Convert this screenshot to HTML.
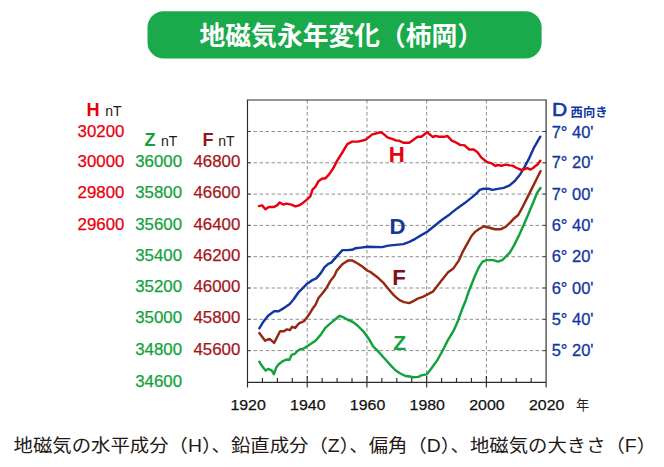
<!DOCTYPE html>
<html lang="ja"><head><meta charset="utf-8"><title>地磁気永年変化（柿岡）</title>
<style>html,body{margin:0;padding:0;background:#fff;}body{width:664px;height:467px;overflow:hidden;font-family:"Liberation Sans",sans-serif;}svg{display:block}</style>
</head><body>
<svg width="664" height="467" viewBox="0 0 664 467" style="display:block">
<rect width="664" height="467" fill="#fff"/>
<rect x="147.5" y="11.3" width="394.1" height="47.1" rx="16" ry="16" fill="#1aaa4b"/>
<text x="199.6" y="45" fill="#fff" font-family="'Liberation Sans', 'Noto Sans CJK JP', sans-serif" font-size="26" font-weight="bold" textLength="283.4" lengthAdjust="spacingAndGlyphs">地磁気永年変化（柿岡）</text>
<path d="M247.5 131.50H546.1M247.5 162.80H546.1M247.5 194.10H546.1M247.5 225.40H546.1M247.5 256.70H546.1M247.5 288.00H546.1M247.5 319.30H546.1M247.5 350.60H546.1M307.22 100.0V382.3M366.94 100.0V382.3M426.66 100.0V382.3M486.38 100.0V382.3" fill="none" stroke="#6a6a6a" stroke-width="0.75" stroke-dasharray="3.5 2.5"/>
<polyline points="259.3,361.7 262.4,366.6 265.6,370.6 268.1,368.9 271.7,370.3 273.9,374.1 276.2,367.6 278.9,364 283.4,360.8 287,359.5 289.3,359.9 291.6,354.9 295.2,353.6 297,351.3 300.6,349.1 303.3,348.8 308.7,345.2 315.5,340.7 320.8,334.6 325.3,327.9 331.3,322.6 335.9,318.8 339.8,315.8 343.4,317.3 347.3,319.5 352.1,321.5 357.5,325.5 364.1,332.2 369.4,339.8 373.1,346.4 377.7,350.9 385.2,359.2 391.2,365.9 395.7,370.5 400.3,373.5 405.5,376 410,376.5 413.1,377.2 418.3,376.9 421.3,375.4 426.7,374.4 431.3,368.5 437.2,360.4 442.4,351 447.5,340.9 453.6,330.7 457.7,321.5 461.7,310.3 465.8,300.2 469.2,290.2 472.2,282.7 475.2,275.2 479,266.9 482.7,261.6 486.5,260.1 493.3,260.1 497.8,261.6 502.3,260.1 506.1,256.4 509.8,252.6 514.3,244.9 519.1,235.2 523.9,224.6 528.8,213 533.6,201.5 537.1,192.8 540.5,188" fill="none" stroke="#12a23b" stroke-width="2.45" stroke-linejoin="round" stroke-linecap="round"/>
<polyline points="259.3,333.1 265.1,340.7 269.6,338.9 274.1,342.9 280.1,331.3 283.9,331.3 286.9,329.4 289.9,330.1 292.2,326.8 295.2,327.9 299,323.3 304.2,321.1 308.7,315.1 312.5,308.8 315.5,304.8 318.5,298 322.3,293.5 326.8,287.4 330.6,280.7 334.3,276.1 336.6,270.9 340.4,266.4 343,263.7 348.3,260.4 352.1,260.4 358.1,263.7 362.6,266.7 367.1,270.5 370.8,272.2 377,276.9 383,282.3 388,288.5 394.2,295.6 399.5,300.1 404,302.1 409.3,303.1 413.8,300.9 418.3,298.3 422.8,296.8 427.2,294.6 432.8,291.7 436.5,286.9 442.1,279.7 448.1,272.2 453.4,268.4 458.6,260.9 463.1,251.1 467.7,242.8 471.5,236 475.2,231.7 479.5,228.8 484.2,226.2 488.7,227.5 494.8,229.2 500.8,229.2 505.6,226.8 510.4,222.3 514.3,218.2 518.2,215 522,208.2 526.8,198.6 531.7,188.9 536.5,179.3 540.5,171.2" fill="none" stroke="#96290f" stroke-width="2.45" stroke-linejoin="round" stroke-linecap="round"/>
<polyline points="259.3,328.3 262.8,322.6 268.1,315.8 274.1,311.3 278.6,311.3 284.6,307.6 289.5,304.3 293.7,299.3 298.2,292.7 302.7,288.2 307.2,283.7 311.8,280.4 316.3,278.4 320.8,273.1 324.6,267.1 328.3,263.8 331.3,262.6 337.2,255.9 342.5,250.1 347,250.1 352.1,249.8 355.1,248.3 361.1,247.6 367.1,246.8 382.2,247.1 388.2,245.6 403.3,244.1 409.3,241.8 415.3,238.8 421.3,235.1 427.2,231.8 434,226.2 442.1,219.7 449.6,214.4 457.1,208.4 464.7,203.1 472.2,197.1 476.7,193.3 479.7,189.9 483.5,188.8 488.7,188.8 492.5,189.9 497.8,188.9 503.8,187.9 509.6,185.4 514.8,181 520.1,174.5 524.6,166.8 528.6,159.4 534.4,146.8 540.3,136.7" fill="none" stroke="#1237a0" stroke-width="2.45" stroke-linejoin="round" stroke-linecap="round"/>
<polyline points="259.0,206.1 262.1,205.4 265.4,209.2 268.8,206.9 274.1,206.9 277.1,205.4 279.8,202.4 283.1,204.6 286.2,203.6 291.4,204.6 295.5,206.4 299.0,205.4 303.5,202.4 307.2,199.4 310.3,196.4 312.5,189.7 315.5,186.7 318.5,181.2 322.3,178.4 325.3,178.4 329.1,174.4 333.6,167.7 336.6,161.6 341.7,153.5 347.3,144.1 352.1,141.6 358.1,141.6 365.6,139.7 372.4,134.4 380.7,132.3 382.2,132.9 387.5,137.4 392.7,139.1 396.5,140.6 398.7,140.6 403.3,142.7 409.3,142.7 413.1,140.1 417.6,136.8 421.3,136.8 427.1,132.3 433,137.1 435.3,135.9 439,136.8 444.3,136.8 447.3,135.9 451.8,140.6 456.4,142.7 460.1,144.9 464.6,145.4 469.2,149.5 473.7,149.5 477.5,152.2 481.2,157.4 486.5,161.8 491.8,163.4 495.5,165.9 497.8,165.0 501.5,165.8 505.2,164.6 509.9,165.4 512.5,165.6 515.8,167.5 519,169 521.9,170.2 524.5,169.2 527.3,168.1 530.6,169.6 533,168 535.1,166.3 537.8,164.2 540.3,160.8" fill="none" stroke="#e8000e" stroke-width="2.45" stroke-linejoin="round" stroke-linecap="round"/>
<path d="M247.5 100.0H546.1V382.3H247.5ZM247.50 376.1V387.5M262.43 377.90000000000003V382.3M277.36 377.90000000000003V382.3M292.29 377.90000000000003V382.3M307.22 376.1V387.5M322.15 377.90000000000003V382.3M337.08 377.90000000000003V382.3M352.01 377.90000000000003V382.3M366.94 376.1V387.5M381.87 377.90000000000003V382.3M396.80 377.90000000000003V382.3M411.73 377.90000000000003V382.3M426.66 376.1V387.5M441.59 377.90000000000003V382.3M456.52 377.90000000000003V382.3M471.45 377.90000000000003V382.3M486.38 376.1V387.5M501.31 377.90000000000003V382.3M516.24 377.90000000000003V382.3M531.17 377.90000000000003V382.3M546.10 376.1V387.5" fill="none" stroke="#2c2c2c" stroke-width="1.15"/>
<path d="M247.5 131.50h3.2M546.1 131.50h-3.2M247.5 162.80h3.2M546.1 162.80h-3.2M247.5 194.10h3.2M546.1 194.10h-3.2M247.5 225.40h3.2M546.1 225.40h-3.2M247.5 256.70h3.2M546.1 256.70h-3.2M247.5 288.00h3.2M546.1 288.00h-3.2M247.5 319.30h3.2M546.1 319.30h-3.2M247.5 350.60h3.2M546.1 350.60h-3.2" fill="none" stroke="#2c2c2c" stroke-width="0.8"/>
<g font-family="'Liberation Sans', sans-serif" font-size="16">
<text x="77.5" y="136.65" fill="#e8000e" textLength="46.9" lengthAdjust="spacingAndGlyphs" font-size="16.4" stroke="#e8000e" stroke-width="0.25">30200</text>
<text x="77.5" y="166.95" fill="#e8000e" textLength="46.9" lengthAdjust="spacingAndGlyphs" font-size="16.4" stroke="#e8000e" stroke-width="0.25">30000</text>
<text x="77.5" y="198.25" fill="#e8000e" textLength="46.9" lengthAdjust="spacingAndGlyphs" font-size="16.4" stroke="#e8000e" stroke-width="0.25">29800</text>
<text x="77.5" y="229.55" fill="#e8000e" textLength="46.9" lengthAdjust="spacingAndGlyphs" font-size="16.4" stroke="#e8000e" stroke-width="0.25">29600</text>
<text x="135.2" y="166.95" fill="#12a23b" textLength="46.9" lengthAdjust="spacingAndGlyphs" font-size="16.4" stroke="#12a23b" stroke-width="0.25">36000</text>
<text x="135.2" y="198.25" fill="#12a23b" textLength="46.9" lengthAdjust="spacingAndGlyphs" font-size="16.4" stroke="#12a23b" stroke-width="0.25">35800</text>
<text x="135.2" y="229.55" fill="#12a23b" textLength="46.9" lengthAdjust="spacingAndGlyphs" font-size="16.4" stroke="#12a23b" stroke-width="0.25">35600</text>
<text x="135.2" y="260.85" fill="#12a23b" textLength="46.9" lengthAdjust="spacingAndGlyphs" font-size="16.4" stroke="#12a23b" stroke-width="0.25">35400</text>
<text x="135.2" y="292.15" fill="#12a23b" textLength="46.9" lengthAdjust="spacingAndGlyphs" font-size="16.4" stroke="#12a23b" stroke-width="0.25">35200</text>
<text x="135.2" y="323.45" fill="#12a23b" textLength="46.9" lengthAdjust="spacingAndGlyphs" font-size="16.4" stroke="#12a23b" stroke-width="0.25">35000</text>
<text x="135.2" y="354.75" fill="#12a23b" textLength="46.9" lengthAdjust="spacingAndGlyphs" font-size="16.4" stroke="#12a23b" stroke-width="0.25">34800</text>
<text x="135.2" y="386.90" fill="#12a23b" textLength="46.9" lengthAdjust="spacingAndGlyphs" font-size="16.4" stroke="#12a23b" stroke-width="0.25">34600</text>
<text x="193.4" y="166.95" fill="#a3161c" textLength="46.9" lengthAdjust="spacingAndGlyphs" font-size="16.4" stroke="#a3161c" stroke-width="0.25">46800</text>
<text x="193.4" y="198.25" fill="#a3161c" textLength="46.9" lengthAdjust="spacingAndGlyphs" font-size="16.4" stroke="#a3161c" stroke-width="0.25">46600</text>
<text x="193.4" y="229.55" fill="#a3161c" textLength="46.9" lengthAdjust="spacingAndGlyphs" font-size="16.4" stroke="#a3161c" stroke-width="0.25">46400</text>
<text x="193.4" y="260.85" fill="#a3161c" textLength="46.9" lengthAdjust="spacingAndGlyphs" font-size="16.4" stroke="#a3161c" stroke-width="0.25">46200</text>
<text x="193.4" y="292.15" fill="#a3161c" textLength="46.9" lengthAdjust="spacingAndGlyphs" font-size="16.4" stroke="#a3161c" stroke-width="0.25">46000</text>
<text x="193.4" y="323.45" fill="#a3161c" textLength="46.9" lengthAdjust="spacingAndGlyphs" font-size="16.4" stroke="#a3161c" stroke-width="0.25">45800</text>
<text x="193.4" y="354.75" fill="#a3161c" textLength="46.9" lengthAdjust="spacingAndGlyphs" font-size="16.4" stroke="#a3161c" stroke-width="0.25">45600</text>
<text x="551.7" y="137.85" fill="#1237a0" textLength="41.8" lengthAdjust="spacingAndGlyphs" stroke="#1237a0" stroke-width="0.3">7° 40'</text>
<text x="551.7" y="168.35" fill="#1237a0" textLength="41.8" lengthAdjust="spacingAndGlyphs" stroke="#1237a0" stroke-width="0.3">7° 20'</text>
<text x="551.7" y="199.65" fill="#1237a0" textLength="41.8" lengthAdjust="spacingAndGlyphs" stroke="#1237a0" stroke-width="0.3">7° 00'</text>
<text x="551.7" y="230.95" fill="#1237a0" textLength="41.8" lengthAdjust="spacingAndGlyphs" stroke="#1237a0" stroke-width="0.3">6° 40'</text>
<text x="551.7" y="262.25" fill="#1237a0" textLength="41.8" lengthAdjust="spacingAndGlyphs" stroke="#1237a0" stroke-width="0.3">6° 20'</text>
<text x="551.7" y="293.55" fill="#1237a0" textLength="41.8" lengthAdjust="spacingAndGlyphs" stroke="#1237a0" stroke-width="0.3">6° 00'</text>
<text x="551.7" y="324.85" fill="#1237a0" textLength="41.8" lengthAdjust="spacingAndGlyphs" stroke="#1237a0" stroke-width="0.3">5° 40'</text>
<text x="551.7" y="356.15" fill="#1237a0" textLength="41.8" lengthAdjust="spacingAndGlyphs" stroke="#1237a0" stroke-width="0.3">5° 20'</text>
<text x="248.10" y="410.20" fill="#111" text-anchor="middle" textLength="35.4" lengthAdjust="spacingAndGlyphs" font-size="15.3" stroke="#111" stroke-width="0.25">1920</text>
<text x="307.82" y="410.20" fill="#111" text-anchor="middle" textLength="35.4" lengthAdjust="spacingAndGlyphs" font-size="15.3" stroke="#111" stroke-width="0.25">1940</text>
<text x="367.54" y="410.20" fill="#111" text-anchor="middle" textLength="35.4" lengthAdjust="spacingAndGlyphs" font-size="15.3" stroke="#111" stroke-width="0.25">1960</text>
<text x="427.26" y="410.20" fill="#111" text-anchor="middle" textLength="35.4" lengthAdjust="spacingAndGlyphs" font-size="15.3" stroke="#111" stroke-width="0.25">1980</text>
<text x="486.98" y="410.20" fill="#111" text-anchor="middle" textLength="35.4" lengthAdjust="spacingAndGlyphs" font-size="15.3" stroke="#111" stroke-width="0.25">2000</text>
<text x="546.70" y="410.20" fill="#111" text-anchor="middle" textLength="35.4" lengthAdjust="spacingAndGlyphs" font-size="15.3" stroke="#111" stroke-width="0.25">2020</text>
<text x="105.3" y="116.00" fill="#231815" font-size="14">nT</text>
<text x="161.0" y="145.80" fill="#231815" font-size="14">nT</text>
<text x="218.2" y="145.80" fill="#231815" font-size="14">nT</text>
</g>
<text x="86.6" y="115.7" fill="#e8000e" font-family="'Liberation Sans', sans-serif" font-size="18.1" font-weight="bold">H</text>
<text x="144.6" y="145.7" fill="#12a23b" font-family="'Liberation Sans', sans-serif" font-size="18.1" font-weight="bold">Z</text>
<text x="202.4" y="145.6" fill="#96131b" font-family="'Liberation Sans', sans-serif" font-size="18.1" font-weight="bold">F</text>
<text x="388.7" y="162" fill="#e8000e" font-family="'Liberation Sans', sans-serif" font-size="22.2" font-weight="bold">H</text>
<text x="389.5" y="234" fill="#1237a0" font-family="'Liberation Sans', sans-serif" font-size="22.2" font-weight="bold">D</text>
<text x="392.2" y="284.8" fill="#820f19" font-family="'Liberation Sans', sans-serif" font-size="22.2" font-weight="bold">F</text>
<text x="393.3" y="350.3" fill="#12a23b" font-family="'Liberation Sans', sans-serif" font-size="21" font-weight="bold">Z</text>
<text transform="translate(551.9,116.0) scale(1.17,1)" fill="#1237a0" stroke="#1237a0" stroke-width="0.55" font-family="'Liberation Sans', sans-serif" font-size="18">D</text>
<text x="570.6" y="116.6" fill="#1237a0" font-family="'Liberation Sans', 'Noto Sans CJK JP', sans-serif" font-size="12.4" font-weight="bold" textLength="37" lengthAdjust="spacingAndGlyphs">西向き</text>
<text x="576.1" y="409.8" fill="#222" font-family="'Liberation Sans', 'Noto Sans CJK JP', sans-serif" font-size="13.2">年</text>
<text x="13.6" y="452.1" fill="#231815" font-family="'Liberation Sans', 'Noto Sans CJK JP', sans-serif" font-size="18" textLength="642.5" lengthAdjust="spacingAndGlyphs">地磁気の水平成分（H）、鉛直成分（Z）、偏角（D）、地磁気の大きさ（F）</text>
</svg>
</body></html>
